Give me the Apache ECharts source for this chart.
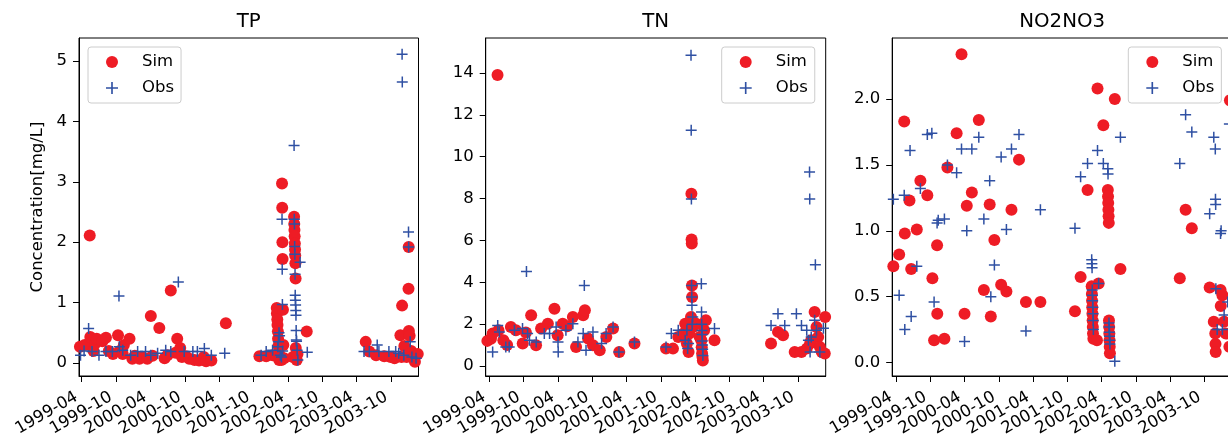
<!DOCTYPE html>
<html><head><meta charset="utf-8">
<script src="https://cdn.jsdelivr.net/npm/echarts@6/dist/echarts.min.js"></script>
<style>html,body{margin:0;padding:0;background:#fff}#c{width:1228px;height:445px}</style>
</head><body><div id="c"></div>
<script>
const xTickLabels = ['1999-04','1999-10','2000-04','2000-10','2001-04','2001-10','2002-04','2002-10','2003-04','2003-10'];
const panelTitles = ['TP','TN','NO2NO3'];
const yAxisTitle = 'Concentration[mg/L]';
const tpYTicks = [0,1,2,3,4,5];
const tnYTicks = [0,2,4,6,8,10,12,14];
const no3YTicks = [0,0.5,1,1.5,2];

const tpSim = [
['1999-03-19',0.18],['1999-03-25',0.27],['1999-04-19',0.3],['1999-05-16',2.11],['1999-05-19',0.43],['1999-06-05',0.2],['1999-06-13',0.32],['1999-06-22',0.4],['1999-07-22',0.36],['1999-08-10',0.42],['1999-08-25',0.2],['1999-09-16',0.15],['1999-10-13',0.46],['1999-10-22',0.2],['1999-11-07',0.15],['1999-11-13',0.3],['1999-12-13',0.4],['1999-12-28',0.07],['2000-01-10',0.12],['2000-02-04',0.07],['2000-02-19',0.1],['2000-03-16',0.07],['2000-04-04',0.78],['2000-04-13',0.12],['2000-05-19',0.58],['2000-06-16',0.08],['2000-07-01',0.13],['2000-07-19',1.2],['2000-08-13',0.17],['2000-08-22',0.4],['2000-09-07',0.25],['2000-09-16',0.1],['2000-10-07',0.11],['2000-10-25',0.07],['2000-11-22',0.05],['2000-12-16',0.04],['2001-01-10',0.1],['2001-01-22',0.03],['2001-02-19',0.04],['2001-05-07',0.66],
['2001-11-01',0.11],['2001-12-07',0.11],['2002-01-10',0.13],['2002-01-28',0.12],['2002-02-01',0.91],['2002-02-02',0.82],['2002-02-04',0.72],['2002-02-05',0.63],['2002-02-07',0.52],['2002-02-08',0.4],['2002-02-10',0.28],['2002-02-12',0.16],['2002-02-14',0.05],['2002-02-20',0.1],['2002-02-26',0.05],['2002-03-01',2.97],['2002-03-02',2.57],['2002-03-03',2.0],['2002-03-04',1.72],['2002-03-06',0.88],['2002-03-08',0.3],['2002-03-12',0.08],
['2002-04-28',0.1],['2002-05-04',2.42],['2002-05-05',2.3],['2002-05-06',2.2],['2002-05-07',2.1],['2002-05-08',1.98],['2002-05-09',1.88],['2002-05-10',1.78],['2002-05-11',1.65],['2002-05-12',1.4],['2002-05-13',0.25],['2002-05-15',0.12],['2002-05-18',0.05],['2002-05-22',0.15],['2002-07-10',0.52],
['2003-05-19',0.35],['2003-06-07',0.19],['2003-07-13',0.13],['2003-08-25',0.11],['2003-09-28',0.1],['2003-10-19',0.08],['2003-11-19',0.46],['2003-11-25',0.1],['2003-11-28',0.95],['2003-12-10',0.28],['2003-12-22',0.1],['2004-01-01',1.23],['2004-01-02',1.92],['2004-01-03',0.53],['2004-01-07',0.45],['2004-01-15',0.2],['2004-02-04',0.02],['2004-02-19',0.15]
];
const tpObs = [
['1999-03-28',0.13],['1999-04-16',0.2],['1999-05-10',0.57],['1999-05-28',0.19],['1999-07-04',0.13],['1999-08-10',0.19],['1999-09-13',0.19],['1999-10-18',1.11],['1999-10-20',0.27],['1999-11-07',0.21],['1999-12-19',0.13],['2000-01-25',0.19],['2000-03-07',0.19],['2000-04-04',0.13],['2000-05-10',0.16],['2000-06-22',0.21],['2000-07-19',0.19],['2000-08-28',1.34],['2000-09-28',0.19],['2000-11-13',0.19],['2000-12-07',0.19],['2001-01-13',0.24],['2001-02-19',0.13],['2001-05-01',0.16],
['2001-11-10',0.13],['2001-12-07',0.19],['2002-01-10',0.21],['2002-02-07',0.27],['2002-02-10',0.35],['2002-02-13',0.5],['2002-02-16',0.45],['2002-02-20',0.13],['2002-02-26',0.1],['2002-03-01',2.38],['2002-03-02',1.55],['2002-03-03',0.97],['2002-03-04',0.2],
['2002-05-04',3.6],['2002-05-05',2.38],['2002-05-06',2.3],['2002-05-07',1.93],['2002-05-08',1.8],['2002-05-09',1.47],['2002-05-10',1.12],['2002-05-11',1.04],['2002-05-12',0.96],['2002-05-13',0.87],['2002-05-14',0.79],['2002-05-15',0.54],['2002-05-16',0.38],['2002-05-17',0.36],['2002-05-20',0.21],['2002-05-24',0.05],['2002-06-05',1.67],['2002-07-13',0.18],
['2003-05-10',0.19],['2003-06-07',0.19],['2003-07-19',0.3],['2003-07-28',0.19],['2003-09-19',0.19],['2003-10-25',0.19],['2003-11-10',0.16],['2003-11-28',5.11],['2003-11-29',4.65],['2003-12-07',0.13],['2004-01-01',2.17],['2004-01-02',1.92],['2004-01-10',0.35],['2004-01-19',0.1],['2004-02-10',0.08]
];
const tnSim = [
['1999-03-22',1.2],['1999-04-10',1.3],['1999-04-19',1.55],['1999-05-15',13.9],['1999-05-20',1.71],['1999-06-15',1.23],['1999-07-05',1.0],['1999-07-25',1.86],['1999-08-21',1.71],['1999-09-26',1.07],['1999-10-13',1.6],['1999-11-10',2.42],['1999-12-06',0.99],['2000-01-02',1.79],['2000-02-07',2.02],['2000-03-13',2.74],['2000-03-30',1.47],['2000-04-26',2.02],['2000-05-20',1.9],['2000-06-19',2.34],['2000-07-06',0.91],['2000-08-13',2.42],['2000-08-22',2.66],['2000-09-08',1.31],['2000-10-04',0.99],['2000-11-09',0.75],['2000-12-14',1.39],['2001-01-19',1.79],['2001-02-21',0.67],['2001-05-13',1.07],
['2001-10-28',0.83],['2001-12-04',0.83],['2002-01-01',1.39],['2002-01-28',1.55],['2002-02-07',2.02],['2002-02-16',1.07],['2002-02-25',0.67],['2002-03-01',1.55],['2002-03-10',2.34],['2002-03-12',8.23],['2002-03-13',6.04],['2002-03-14',5.85],['2002-03-15',3.85],['2002-03-16',3.3],['2002-03-19',1.86],['2002-04-07',2.02],['2002-04-25',1.39],['2002-05-04',1.23],['2002-05-06',0.9],['2002-05-08',0.6],['2002-05-10',0.43],['2002-05-12',0.26],['2002-05-19',1.71],['2002-05-28',2.18],['2002-07-13',1.23],
['2003-05-10',1.07],['2003-06-16',1.63],['2003-07-13',1.47],['2003-09-13',0.67],['2003-10-19',0.67],['2003-11-16',0.83],['2003-12-04',1.07],['2003-12-10',1.23],['2003-12-28',2.58],['2004-01-07',1.86],['2004-01-16',1.39],['2004-01-25',0.91],['2004-02-04',0.67],['2004-02-20',0.6],['2004-02-22',2.34]
];
const tnObs = [
['1999-04-19',0.67],['1999-05-16',1.94],['1999-05-25',1.63],['1999-06-28',0.91],['1999-07-16',0.91],['1999-08-13',1.71],['1999-09-25',1.79],['1999-10-16',4.52],['1999-10-22',1.55],['1999-11-01',1.23],['1999-12-07',1.15],['2000-01-19',1.55],['2000-02-16',1.55],['2000-03-22',1.86],['2000-04-01',1.15],['2000-04-02',0.67],['2000-05-13',1.71],['2000-06-19',2.02],['2000-07-16',1.15],['2000-08-13',1.55],['2000-08-19',3.85],['2000-08-28',0.75],['2000-10-04',1.63],['2000-11-19',1.07],['2000-12-13',1.55],['2001-01-19',1.86],['2001-02-19',0.67],['2001-05-13',1.15],
['2001-10-28',0.91],['2001-11-25',1.55],['2002-01-01',1.71],['2002-02-07',1.23],['2002-02-16',1.71],['2002-02-20',0.83],['2002-02-25',1.07],['2002-03-10',14.85],['2002-03-11',11.26],['2002-03-12',7.98],['2002-03-13',3.85],['2002-03-14',3.3],['2002-03-15',2.9],['2002-03-16',2.0],['2002-03-19',2.34],['2002-05-04',3.93],['2002-05-05',2.58],['2002-05-06',2.0],['2002-05-07',1.7],['2002-05-08',1.5],['2002-05-09',1.2],['2002-05-10',1.0],['2002-05-11',0.8],['2002-05-12',0.5],['2002-07-13',1.79],
['2003-05-10',1.94],['2003-06-16',2.5],['2003-07-22',1.94],['2003-09-22',2.5],['2003-10-19',1.94],['2003-11-16',1.71],['2003-11-25',1.23],['2003-12-01',9.27],['2003-12-02',7.98],['2003-12-04',0.67],['2003-12-10',1.39],['2003-12-28',2.18],['2004-01-01',4.84],['2004-01-07',1.71],['2004-01-25',0.67],['2004-02-13',1.8]
];
const no3Sim = [
['1999-03-19',0.73],['1999-04-19',0.82],['1999-05-16',1.83],['1999-05-19',0.98],['1999-06-13',1.23],['1999-06-22',0.71],['1999-07-22',1.01],['1999-08-10',1.38],['1999-09-16',1.27],['1999-10-13',0.64],['1999-10-22',0.17],['1999-11-07',0.89],['1999-11-08',0.37],['1999-12-16',0.18],['2000-01-01',1.48],['2000-02-19',1.74],['2000-03-16',2.34],['2000-04-01',0.37],['2000-04-13',1.19],['2000-05-10',1.29],['2000-06-16',1.84],['2000-07-13',0.55],['2000-08-13',1.2],['2000-08-19',0.35],['2000-09-07',0.93],['2000-10-13',0.59],['2000-11-10',0.54],['2000-12-07',1.16],['2001-01-16',1.54],['2001-02-22',0.46],['2001-05-10',0.46],
['2001-11-10',0.39],['2001-12-10',0.65],['2002-01-16',1.31],['2002-02-07',0.58],['2002-02-08',0.52],['2002-02-09',0.47],['2002-02-10',0.42],['2002-02-11',0.37],['2002-02-12',0.32],['2002-02-13',0.27],['2002-02-14',0.22],['2002-02-16',0.18],['2002-03-07',0.17],['2002-03-10',2.08],['2002-03-16',0.6],['2002-04-10',1.8],
['2002-05-04',1.31],['2002-05-05',1.26],['2002-05-06',1.21],['2002-05-07',1.16],['2002-05-08',1.11],['2002-05-09',1.06],['2002-05-10',0.32],['2002-05-11',0.27],['2002-05-12',0.22],['2002-05-13',0.17],['2002-05-14',0.12],['2002-05-15',0.07],['2002-06-10',2.0],['2002-07-10',0.71],
['2003-05-22',0.64],['2003-06-22',1.16],['2003-07-25',1.02],['2003-10-28',0.57],['2003-11-19',0.31],['2003-11-27',0.22],['2003-11-28',0.14],['2003-11-29',0.08],['2003-12-25',0.55],['2003-12-26',0.43],['2004-01-04',0.51],['2004-01-13',0.31],['2004-01-22',0.22],['2004-02-10',0.12],['2004-02-13',1.99]
];
const no3Obs = [
['1999-03-19',1.24],['1999-04-19',0.51],['1999-05-16',1.27],['1999-05-19',0.25],['1999-06-16',1.61],['1999-06-22',0.35],['1999-07-22',0.73],['1999-08-10',1.32],['1999-09-16',1.73],['1999-10-10',1.74],['1999-10-22',0.46],['1999-11-07',1.06],['1999-11-13',1.08],['1999-12-16',1.09],['2000-01-01',1.5],['2000-02-19',1.44],['2000-03-16',1.62],['2000-04-01',0.16],['2000-04-13',1.0],['2000-05-10',1.62],['2000-06-16',1.71],['2000-07-13',1.09],['2000-08-13',1.38],['2000-08-19',0.5],['2000-09-07',0.74],['2000-10-13',1.56],['2000-11-10',1.01],['2000-12-07',1.62],['2001-01-16',1.73],['2001-02-22',0.24],['2001-05-10',1.16],
['2001-11-10',1.02],['2001-12-10',1.41],['2002-01-16',1.51],['2002-02-07',0.78],['2002-02-08',0.75],['2002-02-09',0.72],['2002-02-10',0.55],['2002-02-11',0.51],['2002-02-12',0.47],['2002-02-13',0.42],['2002-02-14',0.37],['2002-02-15',0.32],['2002-02-16',0.25],['2002-03-10',1.61],['2002-03-16',0.6],['2002-04-10',1.51],
['2002-05-04',1.47],['2002-05-05',1.43],['2002-05-10',0.3],['2002-05-11',0.27],['2002-05-12',0.23],['2002-05-13',0.2],['2002-05-14',0.17],['2002-05-15',0.14],['2002-06-10',0.01],['2002-07-10',1.71],
['2003-05-22',1.51],['2003-06-22',1.88],['2003-07-25',1.75],['2003-10-28',1.13],['2003-11-19',1.71],['2003-11-27',1.62],['2003-11-28',1.24],['2003-11-29',1.2],['2003-11-30',0.56],['2003-12-07',0.25],['2003-12-25',0.98],['2003-12-28',1.0],['2004-01-04',0.25],['2004-01-13',0.36],['2004-02-01',0.46],['2004-02-10',1.81]
];

const FONT = 'DejaVu Sans';
const FS = 16.5;
const SIM_COLOR = '#ee1c25';
const OBS_COLOR = '#2f50a3';
const PLUS = 'path://M-0.75,-5.5h1.5v4.75h4.75v1.5h-4.75v4.75h-1.5v-4.75h-4.75v-1.5h4.75z';

function ts(s){ const p = s.split('-').map(Number); return new Date(p[0], p[1]-1, p[2]||1).getTime(); }
function pad(n){ return (n<10?'0':'')+n; }
const tickTs = xTickLabels.map(ts);

const panels = [
  {title:panelTitles[0], left:79, width:339.5, xmin:'1999-03-20', xmax:'2004-02-23', ymin:-0.215, ymax:5.38, yticks:tpYTicks, fmt:v=>String(v), sim:tpSim, obs:tpObs, legendLeft:88, yname:yAxisTitle},
  {title:panelTitles[1], left:485.7, width:340, xmin:'1999-03-13', xmax:'2004-02-25', ymin:-0.478, ymax:15.67, yticks:tnYTicks, fmt:v=>String(v), sim:tnSim, obs:tnObs, legendLeft:721.7, yname:''},
  {title:panelTitles[2], left:892.2, width:340, xmin:'1999-03-13', xmax:'2004-02-25', ymin:-0.102, ymax:2.463, yticks:no3YTicks, fmt:v=>Number(v).toFixed(1), sim:no3Sim, obs:no3Obs, legendLeft:1128.3, yname:''}
];

const black = {color:'#000', width:1};
const option = {
  animation:false,
  backgroundColor:'#fff',
  grid: panels.map(p=>({left:p.left, top:38, width:p.width, height:338, show:true, borderColor:'#000', borderWidth:1, backgroundColor:'transparent', containLabel:false, outerBoundsMode:'none'})),
  xAxis: panels.map((p,i)=>({
    type:'value', gridIndex:i, min:ts(p.xmin), max:ts(p.xmax), scale:true,
    axisLine:{show:true, onZero:false, lineStyle:black},
    axisTick:{show:true, inside:false, length:6, customValues:tickTs, lineStyle:black},
    axisLabel:{show:true, customValues:tickTs, rotate:30, margin:17, padding:[0,5.5,0,0],
      formatter:v=>{const d=new Date(Number(v)); return d.getFullYear()+'-'+pad(d.getMonth()+1);},
      fontFamily:FONT, fontSize:FS, color:'#000', hideOverlap:false},
    splitLine:{show:false}
  })),
  yAxis: panels.map((p,i)=>({
    type:'value', gridIndex:i, min:p.ymin, max:p.ymax,
    axisLine:{show:true, onZero:false, lineStyle:black},
    axisTick:{show:true, inside:false, length:6, customValues:p.yticks, lineStyle:black},
    axisLabel:{show:true, customValues:p.yticks, formatter:p.fmt, margin:12, fontFamily:FONT, fontSize:FS, color:'#000'},
    splitLine:{show:false},
    name:p.yname, nameLocation:'middle', nameGap:33, nameRotate:90,
    nameTextStyle:{fontFamily:FONT, fontSize:FS, color:'#000'}
  })),
  legend: panels.map(p=>({
    left:p.legendLeft, top:47, orient:'vertical', data:['Sim','Obs'],
    itemWidth:50, itemHeight:12, itemGap:9, padding:[6.5,7,6.5,18],
    backgroundColor:'rgba(255,255,255,0.8)', borderColor:'#cccccc', borderWidth:1, borderRadius:3,
    textStyle:{fontFamily:FONT, fontSize:FS, color:'#000'}, selectedMode:false
  })),
  graphic: panels.map(p=>({
    type:'text', x:p.left + p.width/2, y:22,
    style:{text:p.title, font:'19.8px "DejaVu Sans"', fill:'#000', align:'center', verticalAlign:'middle'}
  })),
  series: panels.flatMap((p,i)=>[
    {type:'scatter', name:'Sim', xAxisIndex:i, yAxisIndex:i, symbol:'circle', symbolSize:12,
     itemStyle:{color:SIM_COLOR, opacity:1}, z:2, emphasis:{disabled:true},
     data:p.sim.map(d=>[ts(d[0]), d[1]])},
    {type:'scatter', name:'Obs', xAxisIndex:i, yAxisIndex:i, symbol:PLUS, symbolSize:11,
     itemStyle:{color:OBS_COLOR, opacity:1}, z:3, emphasis:{disabled:true},
     data:p.obs.map(d=>[ts(d[0]), d[1]])}
  ])
};
const chart = echarts.init(document.getElementById('c'), null, {renderer:'canvas'});
chart.setOption(option);
</script>
</body></html>
